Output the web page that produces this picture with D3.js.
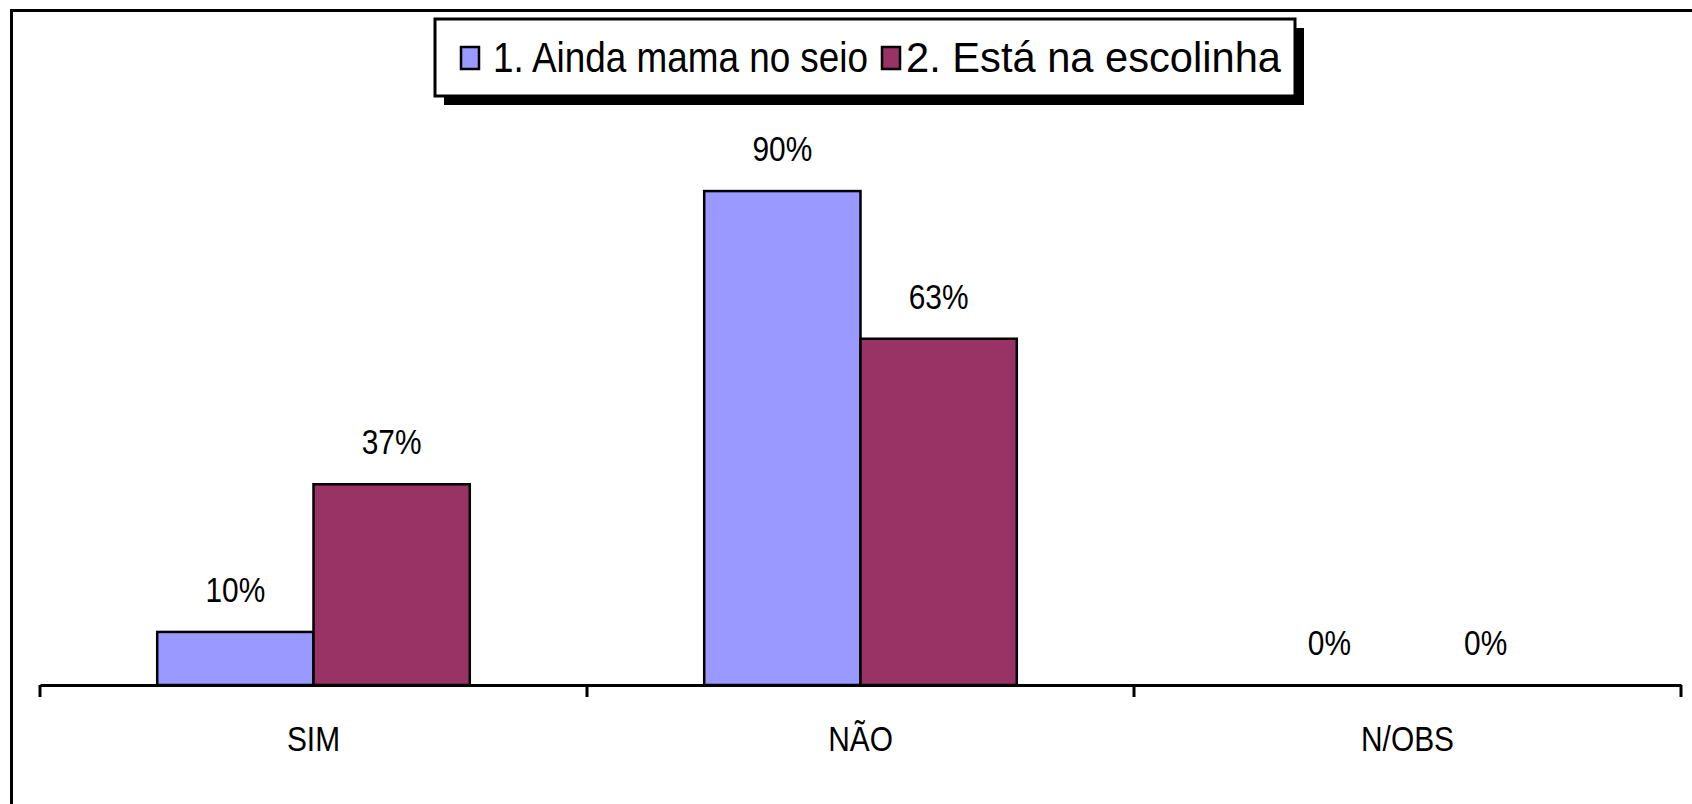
<!DOCTYPE html>
<html>
<head>
<meta charset="utf-8">
<script src="https://cdn.jsdelivr.net/npm/d3@7"></script>
<style>
  html, body { margin: 0; padding: 0; background: #fff; }
  svg text { font-family: 'Liberation Sans', Arial, sans-serif; fill: #000; }
</style>
</head>
<body>
<svg id="chart" width="1692" height="804"></svg>
<script>
// data
const categories = ['SIM', 'NÃO', 'N/OBS'];
const seriesNames = ['1. Ainda mama no seio', '2. Está na escolinha'];
const aindaMama = [0.097, 0.903, 0];
const escolinha = [0.367, 0.633, 0];
const colors = ['#9999FF', '#993366'];

const width = 1692;
const height = 804;
const svg = d3.select('#chart');

// the original font is a narrow face; squeeze Liberation Sans to match
const narrow = 0.83;

// outer frame (right and bottom edges fall outside the picture)
svg.append('path')
  .attr('d', `M11.5,${height + 5}V10.5H${width + 5}`)
  .attr('fill', 'none')
  .attr('stroke', '#000')
  .attr('stroke-width', 3);

const plot = { left: 40, right: 1681, top: 138, bottom: 685 };

const x = d3.scaleBand()
  .domain(categories)
  .range([plot.left, plot.right]);

const x1 = d3.scaleBand()
  .domain([0, 1])
  .range([0, x.bandwidth()])
  .paddingOuter(0.75)
  .paddingInner(0);

const y = d3.scaleLinear()
  .domain([0, 1])
  .range([plot.bottom, plot.top]);

const fmt = d3.format('.0%');

const rows = categories.map((c, i) => ({
  cat: c,
  values: [aindaMama[i], escolinha[i]]
}));

const groups = svg.append('g')
  .selectAll('g')
  .data(rows)
  .enter().append('g')
    .attr('transform', (d) => `translate(${x(d.cat)},0)`);

groups.selectAll('rect')
  .data((d) => d.values.map((v, k) => ({ k: k, v: v })).filter((e) => e.v > 0))
  .enter().append('rect')
    .attr('x', (d) => x1(d.k))
    .attr('y', (d) => y(d.v))
    .attr('width', x1.bandwidth())
    .attr('height', (d) => y(0) - y(d.v))
    .attr('fill', (d) => colors[d.k])
    .attr('stroke', '#000')
    .attr('stroke-width', 2.5);

groups.selectAll('text')
  .data((d) => d.values.map((v, k) => ({ k: k, v: v })))
  .enter().append('text')
    .attr('transform', (d) => `translate(${x1(d.k) + x1.bandwidth() / 2},${y(d.v) - 30}) scale(${narrow},1)`)
    .attr('text-anchor', 'middle')
    .attr('font-size', 36)
    .text((d) => fmt(d.v));

// category axis
const axis = d3.axisBottom(x)
  .tickValues([])
  .tickSizeOuter(0);

const axisG = svg.append('g')
  .attr('transform', `translate(0,${plot.bottom})`)
  .call(axis);
axisG.select('.domain').attr('stroke', '#000').attr('stroke-width', 3);

// ticks sit on the band boundaries
const bounds = categories.map((c) => x(c)).concat([x.range()[1]]);
axisG.selectAll('line.bound')
  .data(bounds)
  .enter().append('line')
    .attr('class', 'bound')
    .attr('x1', (d) => d).attr('x2', (d) => d)
    .attr('y1', 0).attr('y2', 12)
    .attr('stroke', '#000')
    .attr('stroke-width', 3);

axisG.selectAll('text.cat')
  .data(categories)
  .enter().append('text')
    .attr('class', 'cat')
    .attr('transform', (d) => `translate(${x(d) + x.bandwidth() / 2},66) scale(${narrow},1)`)
    .attr('text-anchor', 'middle')
    .attr('font-size', 36)
    .text((d) => d);

// legend with drop shadow
const legend = { x: 435, y: 19, w: 860, h: 77, shadow: 9 };
const lg = svg.append('g');
lg.append('rect')
  .attr('x', legend.x + legend.shadow)
  .attr('y', legend.y + legend.shadow)
  .attr('width', legend.w)
  .attr('height', legend.h)
  .attr('fill', '#000');
lg.append('rect')
  .attr('x', legend.x)
  .attr('y', legend.y)
  .attr('width', legend.w)
  .attr('height', legend.h)
  .attr('fill', '#fff')
  .attr('stroke', '#000')
  .attr('stroke-width', 3);

const legendItemX = [461, 882];
const legendTextX = [32, 24];
const items = lg.selectAll('g.item')
  .data(seriesNames)
  .enter().append('g')
    .attr('class', 'item')
    .attr('transform', (d, i) => `translate(${legendItemX[i]},0)`);

items.append('rect')
  .attr('x', 0)
  .attr('y', 47)
  .attr('width', 18)
  .attr('height', 22)
  .attr('fill', (d, i) => colors[i])
  .attr('stroke', '#000')
  .attr('stroke-width', 2.5);

items.append('text')
  .attr('x', (d, i) => legendTextX[i])
  .attr('y', 72)
  .attr('font-size', 42)
  .attr('textLength', 375)
  .attr('lengthAdjust', 'spacingAndGlyphs')
  .text((d) => d);
</script>
</body>
</html>
